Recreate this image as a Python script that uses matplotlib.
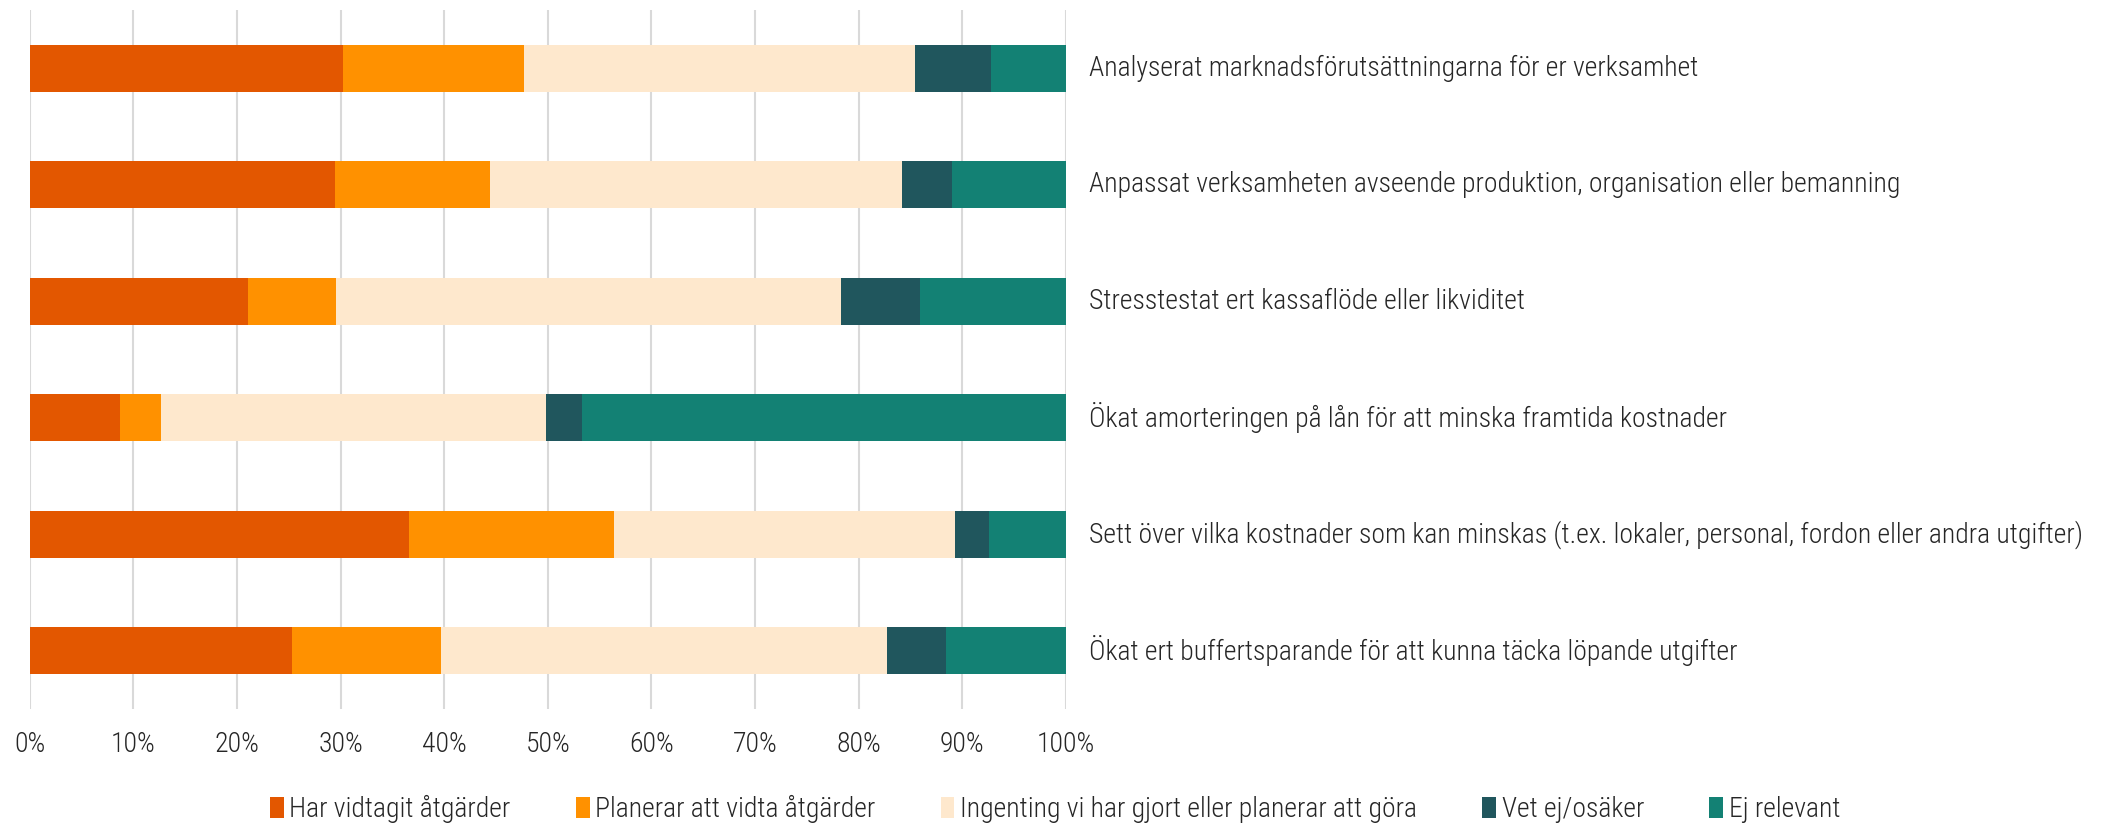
import matplotlib
matplotlib.use('Agg')
import matplotlib.pyplot as plt
import numpy as np

# categories, top to bottom
categories = [
    'Analyserat marknadsförutsättningarna för er verksamhet',
    'Anpassat verksamheten avseende produktion, organisation eller bemanning',
    'Stresstestat ert kassaflöde eller likviditet',
    'Ökat amorteringen på lån för att minska framtida kostnader',
    'Sett över vilka kostnader som kan minskas (t.ex. lokaler, personal, fordon eller andra utgifter)',
    'Ökat ert buffertsparande för att kunna täcka löpande utgifter',
]

series_names = [
    'Har vidtagit åtgärder',
    'Planerar att vidta åtgärder',
    'Ingenting vi har gjort eller planerar att göra',
    'Vet ej/osäker',
    'Ej relevant',
]

har_vidtagit = [30.2, 29.5, 21.1, 8.7, 36.6, 25.3]
planerar = [17.5, 14.9, 8.5, 4.0, 19.8, 14.4]
ingenting = [37.7, 39.8, 48.7, 37.1, 32.9, 43.0]
vet_ej = [7.4, 4.8, 7.6, 3.5, 3.3, 5.7]
ej_relevant = [7.2, 11.0, 14.1, 46.7, 7.4, 11.6]

colors = ['#E35700', '#FF9100', '#FEE8CD', '#20565D', '#138174']

tick_values = [0, 10, 20, 30, 40, 50, 60, 70, 80, 90, 100]
tick_labels = ['%d%%' % v for v in tick_values]

plt.rcParams['font.family'] = ['Roboto Condensed', 'DejaVu Sans']
plt.rcParams['font.weight'] = 300
text_color = '#262626'
fs = 20

fig = plt.figure(figsize=(21.10, 8.23), dpi=100)
ax = fig.add_axes([0.01403, 1 - 709 / 823, 0.4912, (709 - 10) / 823])

series = [har_vidtagit, planerar, ingenting, vet_ej, ej_relevant]
y = np.arange(len(categories))
left = np.zeros(len(categories))
for name, vals, c in zip(series_names, series, colors):
    vals = np.array(vals)
    ax.barh(y, vals, left=left, height=0.40, color=c, label=name, zorder=3)
    left += vals

ax.set_ylim(len(categories) - 0.5, -0.5)
ax.set_xlim(0, 100)
ax.set_xticks(tick_values)
ax.set_xticklabels(tick_labels, fontsize=fs, color=text_color)
ax.tick_params(axis='x', length=0, pad=16)
ax.set_yticks([])
for s in ax.spines.values():
    s.set_visible(False)
ax.grid(axis='x', color='#D9D9D9', linewidth=1.5, zorder=0)

for yi, cat in zip(y, categories):
    ax.text(102.2, yi, cat, va='center', ha='left', fontsize=fs, color=text_color)

handles, labels = ax.get_legend_handles_labels()
fig.legend(handles, labels, loc='center', bbox_to_anchor=(0.5, 1 - 809 / 823), ncol=5,
           frameon=False, fontsize=fs, handlelength=0.5, handleheight=0.8,
           handletextpad=0.2, columnspacing=2.35, labelcolor=text_color)

fig.savefig('out.png', dpi=100)
